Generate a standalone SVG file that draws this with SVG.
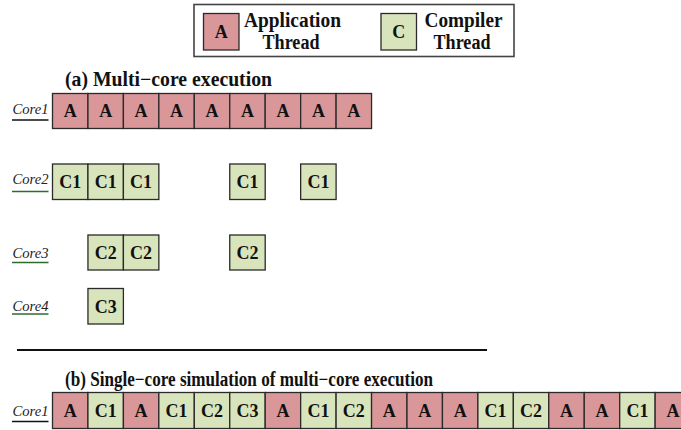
<svg xmlns="http://www.w3.org/2000/svg" width="681" height="430" viewBox="0 0 681 430">
<style>
.a{fill:#d9979a;stroke:#2a2a2a;stroke-width:1.3}
.c{fill:#d8e4bc;stroke:#2a2a2a;stroke-width:1.3}
.t{font-family:"Liberation Serif","Times New Roman",serif;font-weight:bold;font-size:18px;text-anchor:middle;fill:#111}
.lg{font-family:"Liberation Serif","Times New Roman",serif;font-weight:bold;font-size:20px;text-anchor:middle;fill:#111}
.ti{font-family:"Liberation Serif","Times New Roman",serif;font-weight:bold;font-size:20px;fill:#111}
.cl{font-family:"Liberation Serif","Times New Roman",serif;font-style:italic;font-size:15px;fill:#222}
.ub{stroke:#111;stroke-width:1.3}
.ug{stroke:#2f6b2f;stroke-width:1.5}
</style>
<rect width="681" height="430" fill="#fff"/>
<g id="legend">
<rect x="194" y="4.5" width="320" height="52" fill="#fff" stroke="#444" stroke-width="1.6"/>
<rect class="a" x="203.5" y="13.5" width="35.5" height="36.5"/>
<text class="t" x="221.25" y="38">A</text>
<text class="lg" x="292.5" y="27" textLength="97" lengthAdjust="spacingAndGlyphs">Application</text>
<text class="lg" x="291" y="49" textLength="57" lengthAdjust="spacingAndGlyphs">Thread</text>
<rect class="c" x="381" y="13.5" width="35.5" height="36.5"/>
<text class="t" x="398.75" y="38">C</text>
<text class="lg" x="463.5" y="27" textLength="78" lengthAdjust="spacingAndGlyphs">Compiler</text>
<text class="lg" x="462" y="49" textLength="57" lengthAdjust="spacingAndGlyphs">Thread</text>
</g>
<text class="ti" x="65" y="86" textLength="207" lengthAdjust="spacingAndGlyphs">(a) Multi−core execution</text>
<g id="label-a-core1"><text class="cl" x="12.5" y="114" textLength="36" lengthAdjust="spacingAndGlyphs">Core1</text><line class="ub" x1="12" y1="120" x2="48.5" y2="120"/></g>
<g id="label-core2"><text class="cl" x="12.5" y="184" textLength="36" lengthAdjust="spacingAndGlyphs">Core2</text><line class="ug" x1="12" y1="191.5" x2="48.5" y2="191.5"/></g>
<g id="label-core3"><text class="cl" x="12.5" y="258" textLength="36" lengthAdjust="spacingAndGlyphs">Core3</text><line class="ug" x1="12" y1="262.5" x2="48.5" y2="262.5"/></g>
<g id="label-core4"><text class="cl" x="12.5" y="310.5" textLength="36" lengthAdjust="spacingAndGlyphs">Core4</text><line class="ug" x1="12" y1="314" x2="48.5" y2="314"/></g>
<g id="row-a-core1">
<g id="a1-0"><rect class="a" x="52.5" y="93.5" width="35.45" height="35"/><text class="t" x="70.2" y="117">A</text></g>
<g id="a1-1"><rect class="a" x="87.95" y="93.5" width="35.45" height="35"/><text class="t" x="105.7" y="117">A</text></g>
<g id="a1-2"><rect class="a" x="123.4" y="93.5" width="35.45" height="35"/><text class="t" x="141.1" y="117">A</text></g>
<g id="a1-3"><rect class="a" x="158.85" y="93.5" width="35.45" height="35"/><text class="t" x="176.6" y="117">A</text></g>
<g id="a1-4"><rect class="a" x="194.3" y="93.5" width="35.45" height="35"/><text class="t" x="212" y="117">A</text></g>
<g id="a1-5"><rect class="a" x="229.75" y="93.5" width="35.45" height="35"/><text class="t" x="247.5" y="117">A</text></g>
<g id="a1-6"><rect class="a" x="265.2" y="93.5" width="35.45" height="35"/><text class="t" x="282.9" y="117">A</text></g>
<g id="a1-7"><rect class="a" x="300.65" y="93.5" width="35.45" height="35"/><text class="t" x="318.4" y="117">A</text></g>
<g id="a1-8"><rect class="a" x="336.1" y="93.5" width="35.45" height="35"/><text class="t" x="353.8" y="117">A</text></g>
</g>
<g id="row-a-core2">
<g id="a2-0"><rect class="c" x="52.5" y="164" width="35.45" height="35.5"/><text class="t" x="70.2" y="188">C1</text></g>
<g id="a2-1"><rect class="c" x="87.95" y="164" width="35.45" height="35.5"/><text class="t" x="105.7" y="188">C1</text></g>
<g id="a2-2"><rect class="c" x="123.4" y="164" width="35.45" height="35.5"/><text class="t" x="141.1" y="188">C1</text></g>
<g id="a2-5"><rect class="c" x="229.75" y="164" width="35.45" height="35.5"/><text class="t" x="247.5" y="188">C1</text></g>
<g id="a2-7"><rect class="c" x="300.65" y="164" width="35.45" height="35.5"/><text class="t" x="318.4" y="188">C1</text></g>
</g>
<g id="row-a-core3">
<g id="a3-1"><rect class="c" x="87.95" y="235" width="35.45" height="35"/><text class="t" x="105.7" y="259">C2</text></g>
<g id="a3-2"><rect class="c" x="123.4" y="235" width="35.45" height="35"/><text class="t" x="141.1" y="259">C2</text></g>
<g id="a3-5"><rect class="c" x="229.75" y="235" width="35.45" height="35"/><text class="t" x="247.5" y="259">C2</text></g>
</g>
<g id="row-a-core4">
<g id="a4-1"><rect class="c" x="87.95" y="288.5" width="35.45" height="35.5"/><text class="t" x="105.7" y="312.5">C3</text></g>
</g>
<line x1="17" y1="350" x2="487" y2="350" stroke="#111" stroke-width="2"/>
<text class="ti" x="65" y="386" textLength="368" lengthAdjust="spacingAndGlyphs">(b) Single−core simulation of multi−core execution</text>
<g id="label-b-core1"><text class="cl" x="12.5" y="416" textLength="36" lengthAdjust="spacingAndGlyphs">Core1</text><line class="ub" x1="12" y1="421.5" x2="48.5" y2="421.5"/></g>
<g id="row-b-core1">
<g id="b-0"><rect class="a" x="52.5" y="392.5" width="35.45" height="36"/><text class="t" x="70.2" y="417">A</text></g>
<g id="b-1"><rect class="c" x="87.95" y="392.5" width="35.45" height="36"/><text class="t" x="105.7" y="417">C1</text></g>
<g id="b-2"><rect class="a" x="123.4" y="392.5" width="35.45" height="36"/><text class="t" x="141.1" y="417">A</text></g>
<g id="b-3"><rect class="c" x="158.85" y="392.5" width="35.45" height="36"/><text class="t" x="176.6" y="417">C1</text></g>
<g id="b-4"><rect class="c" x="194.3" y="392.5" width="35.45" height="36"/><text class="t" x="212" y="417">C2</text></g>
<g id="b-5"><rect class="c" x="229.75" y="392.5" width="35.45" height="36"/><text class="t" x="247.5" y="417">C3</text></g>
<g id="b-6"><rect class="a" x="265.2" y="392.5" width="35.45" height="36"/><text class="t" x="282.9" y="417">A</text></g>
<g id="b-7"><rect class="c" x="300.65" y="392.5" width="35.45" height="36"/><text class="t" x="318.4" y="417">C1</text></g>
<g id="b-8"><rect class="c" x="336.1" y="392.5" width="35.45" height="36"/><text class="t" x="353.8" y="417">C2</text></g>
<g id="b-9"><rect class="a" x="371.55" y="392.5" width="35.45" height="36"/><text class="t" x="389.3" y="417">A</text></g>
<g id="b-10"><rect class="a" x="407" y="392.5" width="35.45" height="36"/><text class="t" x="424.7" y="417">A</text></g>
<g id="b-11"><rect class="a" x="442.45" y="392.5" width="35.45" height="36"/><text class="t" x="460.2" y="417">A</text></g>
<g id="b-12"><rect class="c" x="477.9" y="392.5" width="35.45" height="36"/><text class="t" x="495.6" y="417">C1</text></g>
<g id="b-13"><rect class="c" x="513.35" y="392.5" width="35.45" height="36"/><text class="t" x="531.1" y="417">C2</text></g>
<g id="b-14"><rect class="a" x="548.8" y="392.5" width="35.45" height="36"/><text class="t" x="566.5" y="417">A</text></g>
<g id="b-15"><rect class="a" x="584.25" y="392.5" width="35.45" height="36"/><text class="t" x="602" y="417">A</text></g>
<g id="b-16"><rect class="c" x="619.7" y="392.5" width="35.45" height="36"/><text class="t" x="637.4" y="417">C1</text></g>
<g id="b-17"><rect class="a" x="655.15" y="392.5" width="35.45" height="36"/><text class="t" x="672.9" y="417">A</text></g>
</g>
<g id="connectors"/>
</svg>
